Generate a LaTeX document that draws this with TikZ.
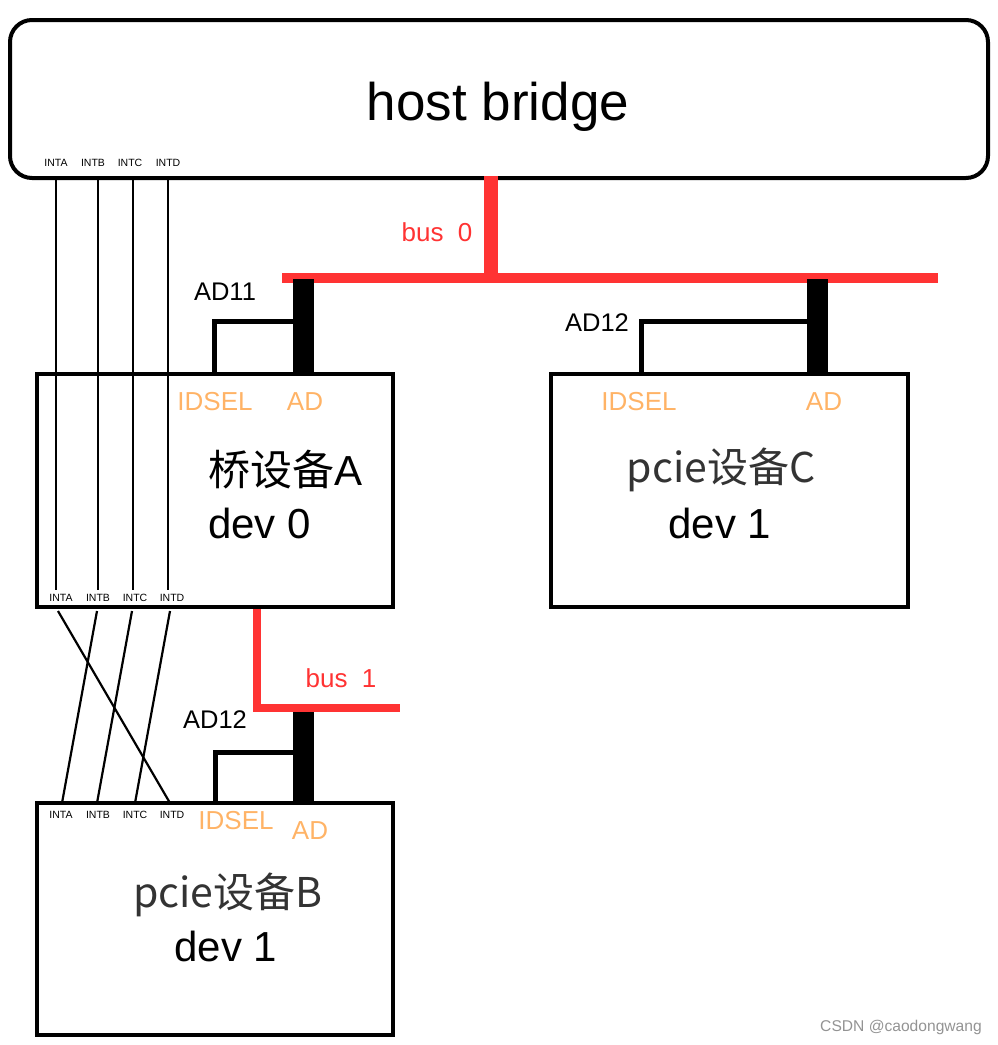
\documentclass[tikz,border=0pt]{standalone}
\usepackage{fontspec}
\setmainfont{Liberation Sans}
\newfontfamily\cjk{Noto Sans CJK SC}
\definecolor{busred}{HTML}{FF3333}
\definecolor{pinor}{HTML}{FFB366}
\definecolor{darktxt}{HTML}{333333}
\begin{document}
\begin{tikzpicture}[x=1pt,y=-1pt,
  box/.style={draw=black,line width=4pt,inner sep=0pt,outer sep=0pt,anchor=north west},
  intlab/.style={font=\fontsize{10.5}{11}\selectfont,inner sep=0pt},
  pinlab/.style={font=\fontsize{26}{27}\selectfont,text=pinor,inner sep=0pt},
  adlab/.style={font=\fontsize{25.5}{26}\selectfont,inner sep=0pt},
  buslab/.style={font=\fontsize{26}{27}\selectfont,text=busred,inner sep=0pt},
  title/.style={font=\fontsize{42}{44}\selectfont,inner sep=0pt},
  ctitle/.style={font=\cjk\fontsize{41}{44}\selectfont,text=darktxt,inner sep=0pt},
  wire/.style={draw=black,line width=2.2pt},
  redbus/.style={draw=busred,line width=10pt},
  adbar/.style={draw=black,line width=21pt},
  idselw/.style={draw=black,line width=5pt,line join=miter}]
\useasboundingbox (0,0) rectangle (998,1045);

% boxes
\node[box,rounded corners=22pt,minimum width=978pt,minimum height=158pt] (hb) at (10,20) {};
\node[box,minimum width=356pt,minimum height=233pt] (A) at (37,374) {};
\node[box,minimum width=357pt,minimum height=233pt] (C) at (551,374) {};
\node[box,minimum width=356pt,minimum height=232pt] (B) at (37,803) {};

% texts
\node[font=\fontsize{53}{55}\selectfont,inner sep=0pt] (hbt) at (498,107) {host bridge};
\foreach \n/\x in {A/56,B/93,C/130,D/168}{
  \node[intlab] (hb\n) at (\x,163) {INT\n};}
\foreach \n/\x in {A/61,B/98,C/135,D/172}{
  \node[intlab] (Ai\n) at (\x,598) {INT\n};
  \node[intlab] (Bi\n) at (\x,815) {INT\n};}

\node[pinlab] (Aid) at (215,402) {IDSEL};
\node[pinlab] (Aad) at (305,402) {AD};
\node[title,anchor=west] (At1) at (208,470) {{\cjk 桥设备}A};
\node[title,anchor=west] (At2) at (208,523) {dev 0};

\node[pinlab] (Cid) at (639,402) {IDSEL};
\node[pinlab] (Cad) at (824,402) {AD};
\node[ctitle] (Ct1) at (721,470) {pcie设备C};
\node[title] (Ct2) at (720,523) {dev 1};

\node[pinlab] (Bid) at (236,821) {IDSEL};
\node[pinlab] (Bad) at (310,831) {AD};
\node[ctitle] (Bt1) at (228,895) {pcie设备B};
\node[title] (Bt2) at (226,946) {dev 1};

\node[adlab] (l11) at (225,292) {AD11};
\node[adlab] (lc12) at (597,323) {AD12};
\node[adlab] (lb12) at (215,720) {AD12};
\node[buslab] (b0) at (437,232) {bus\ \ 0};
\node[buslab] (b1) at (341,678) {bus\ \ 1};
\node[font=\fontsize{15.6}{16}\selectfont,text=gray!85,inner sep=0pt] (wm) at (901,1027) {CSDN @caodongwang};

% interrupt wires host bridge -> A
\foreach \n/\x in {A/56,B/98,C/133,D/168}{
  \coordinate (hs\n) at (\x,178);
  \coordinate (ae\n) at (\x,590);
  \draw[wire] (hs\n) -- (ae\n);}
% crossing wires A -> B
\coordinate (aoA) at (58,611); \coordinate (aoB) at (97,611);
\coordinate (aoC) at (132,611); \coordinate (aoD) at (170,611);
\coordinate (biA) at (62,803); \coordinate (biB) at (97,803);
\coordinate (biC) at (135,803); \coordinate (biD) at (170,803);
\draw[wire] (aoA) -- (biD);
\draw[wire] (aoB) -- (biA);
\draw[wire] (aoC) -- (biB);
\draw[wire] (aoD) -- (biC);

% bus 0
\coordinate (hbbus) at (491,176);
\coordinate (b0j) at (491,278);
\coordinate (b0l) at (282,278);
\coordinate (b0r) at (938,278);
\draw[draw=busred,line width=14pt] (hbbus) -- (b0j);
\draw[redbus] (b0l) -- (b0r);

% AD bars bus 0
\coordinate (adAt) at (303.5,279); \coordinate (adAb) at (303.5,374);
\coordinate (adCt) at (817.5,279); \coordinate (adCb) at (817.5,374);
\draw[adbar] (adAt) -- (adAb);
\draw[adbar] (adCt) -- (adCb);
% IDSEL lines
\coordinate (idA) at (214,374); \coordinate (idAj) at (300,321);
\draw[idselw] (idA) |- (idAj);
\coordinate (idC) at (641,374); \coordinate (idCj) at (815,321);
\draw[idselw] (idC) |- (idCj);

% bus 1
\coordinate (b1s) at (257,609);
\coordinate (b1e) at (400,708);
\draw[draw=busred,line width=8pt,line join=miter] (b1s) |- (b1e);
\coordinate (adBt) at (303.5,712); \coordinate (adBb) at (303.5,803);
\draw[adbar] (adBt) -- (adBb);
\coordinate (idB) at (215,803); \coordinate (idBj) at (300,752);
\draw[idselw] (idB) |- (idBj);
\end{tikzpicture}
\end{document}
